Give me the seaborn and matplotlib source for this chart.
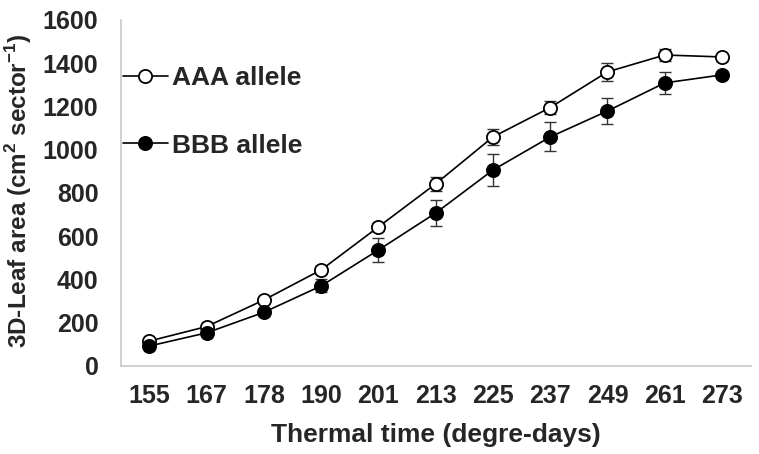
import numpy as np
import matplotlib
matplotlib.use("Agg")
import matplotlib.pyplot as plt
import seaborn as sns

# thermal time categories and leaf area per allele
thermal_time = ["155", "167", "178", "190", "201", "213", "225", "237", "249", "261", "273"]
aaa_area = [115, 182, 305, 444, 643, 842, 1059, 1195, 1360, 1438, 1429]
aaa_err = [10, 12, 15, 18, 20, 32, 35, 30, 40, 30, 10]
bbb_area = [92, 153, 248, 370, 536, 707, 906, 1059, 1179, 1309, 1346]
bbb_err = [8, 10, 14, 30, 55, 60, 74, 67, 60, 50, 10]

sns.set_style("white")
plt.rcParams['font.family'] = ['Liberation Sans', 'DejaVu Sans']
plt.rcParams['font.weight'] = 'bold'
plt.rcParams['mathtext.fontset'] = 'custom'
plt.rcParams['mathtext.bf'] = 'Liberation Sans:bold'
plt.rcParams['mathtext.rm'] = 'Liberation Sans:bold'

fig = plt.figure(figsize=(7.59, 4.54), dpi=100)
ax = fig.add_axes([0.159, 0.194, 0.83, 0.762])

pos = np.arange(len(thermal_time))

for vals, errs, face, lab in [(aaa_area, aaa_err, "white", "AAA allele"),
                              (bbb_area, bbb_err, "black", "BBB allele")]:
    ax.errorbar(pos, vals, yerr=errs, fmt="none", ecolor="#333333",
                elinewidth=1, capsize=4, capthick=1, zorder=2)
    sns.lineplot(x=pos, y=vals, ax=ax, color="black", linewidth=1.2,
                 marker="o", markersize=9.5, markerfacecolor=face,
                 markeredgecolor="black", markeredgewidth=1.3, label=lab, zorder=3)

ax.set_xlim(-0.5, len(thermal_time) - 0.5)
ax.set_ylim(0, 1600)
ax.set_yticks(range(0, 1601, 200))
ax.set_xticks(pos)
ax.set_xticklabels(thermal_time)
ax.tick_params(axis="both", length=0, labelsize=18)
ax.tick_params(axis="x", pad=13)
ax.tick_params(axis="y", pad=16)
for lbl in ax.get_xticklabels() + ax.get_yticklabels():
    lbl.set_fontweight("bold")

for s in ["top", "right"]:
    ax.spines[s].set_visible(False)
for s in ["left", "bottom"]:
    ax.spines[s].set_color("#c8c8c8")
    ax.spines[s].set_linewidth(1.2)

ax.set_xlabel("Thermal time (degre-days)", fontsize=19, fontweight="bold")
ax.set_ylabel("3D-Leaf area (cm$^{2}$ sector$^{-1}$)", fontsize=17.5, fontweight="bold")
ax.xaxis.set_label_coords(0.5, -0.165)
ax.yaxis.set_label_coords(-0.137, 0.505)

leg = ax.legend(loc="upper left", bbox_to_anchor=(123 / 759, 1 - 66 / 454),
                bbox_transform=fig.transFigure, frameon=False, borderpad=0,
                borderaxespad=0, handlelength=1.7, handletextpad=0.15,
                labelspacing=1.65, prop={"size": 19, "weight": "bold"})

fig.savefig("out.png", dpi=100)
